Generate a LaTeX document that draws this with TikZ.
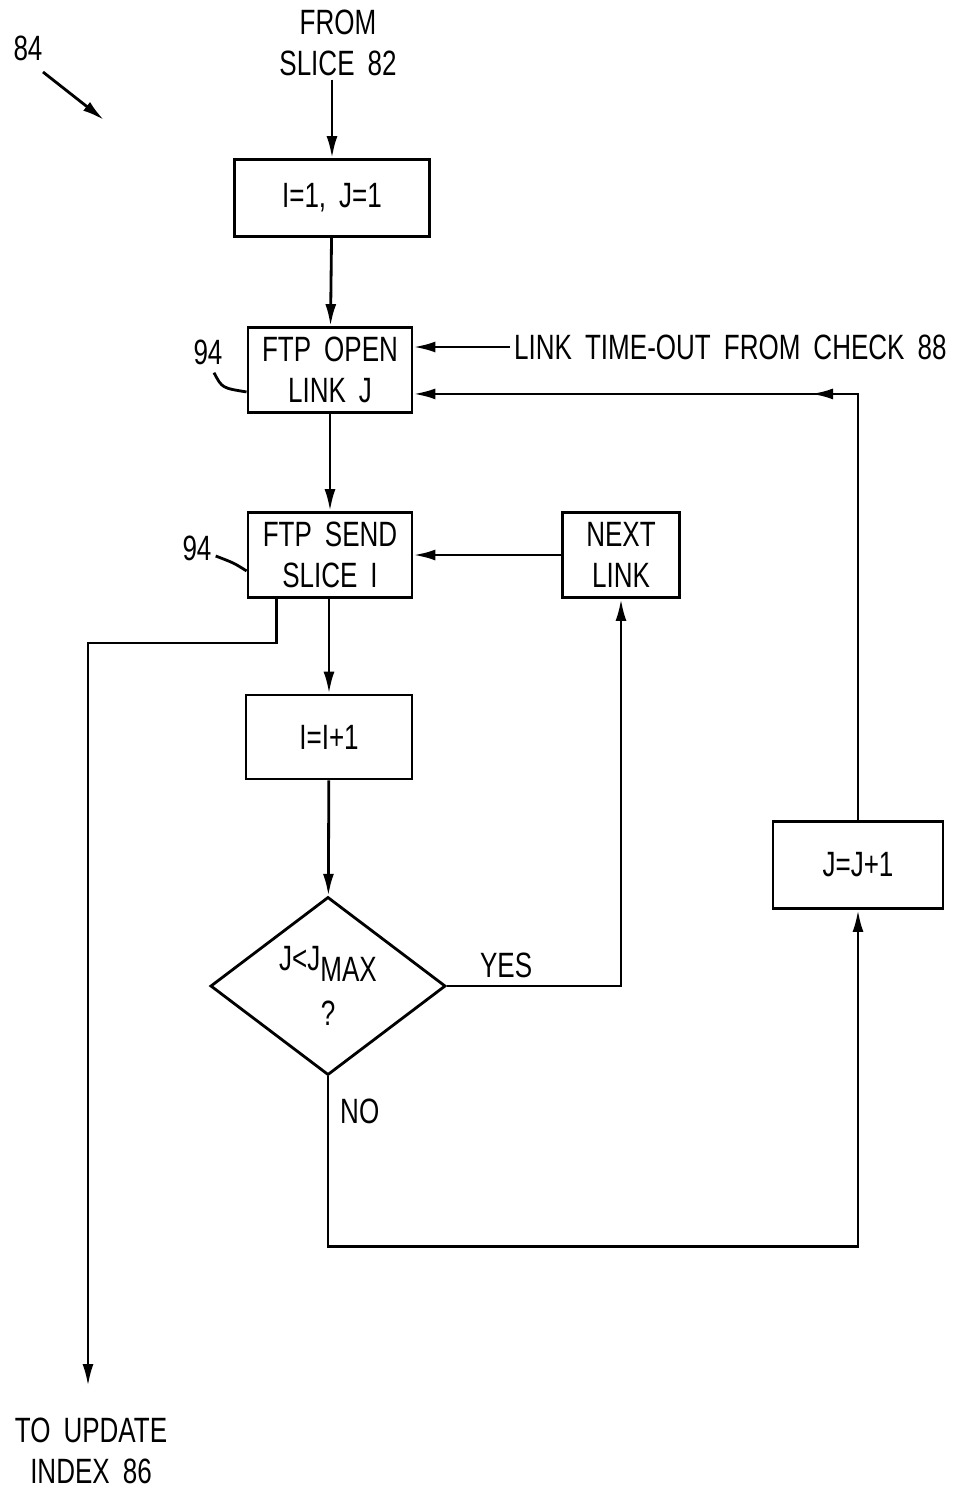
\documentclass[tikz,border=0pt]{standalone}
\usepackage{fontspec}
\setmainfont{Liberation Sans}[FakeStretch=0.74, WordSpace=1.8]
\usepackage{tikz}
\usetikzlibrary{shapes.geometric, arrows.meta, positioning, calc}

\begin{document}
\begin{tikzpicture}[
    x=0.01cm, y=-0.01cm,
    every node/.style={font=\fontsize{10}{11.5}\selectfont},
    box/.style={rectangle, draw, line width=0.8pt, minimum width=1.64cm, minimum height=0.85cm, align=center, inner sep=1pt},
    decision/.style={diamond, draw, line width=0.8pt, minimum width=2.35cm, minimum height=1.78cm, align=center, inner sep=0pt},
    txt/.style={align=center, inner sep=1pt},
    line/.style={line width=0.8pt},
    arrow/.style={-{Latex[length=2.2mm, width=1.1mm]}, line width=0.8pt}
]
\useasboundingbox (0,0) rectangle (957,1487);

% labels outside the flow
\node[txt] (fig84) at (28,48) {84};
\node[txt] (fromslice) at (338,43) {FROM\\SLICE 82};
\node[txt, anchor=west] (timeout) at (510,347) {LINK TIME-OUT FROM CHECK 88};
\node[txt, anchor=north] (toupdate) at (91,1414) {TO UPDATE\\INDEX 86};

% process boxes
\node[box, minimum width=1.95cm, minimum height=0.77cm] (init) at (332,198) {I=1, J=1};
\node[box] (ftpopen) at (330,370) {FTP OPEN\\LINK J};
\node[box] (ftpsend) at (330,555) {FTP SEND\\SLICE I};
\node[box, minimum width=1.17cm] (nextlink) at (621,555) {NEXT\\LINK};
\node[box, minimum width=1.66cm, minimum height=0.84cm] (incI) at (329,737) {I=I+1};
\node[box, minimum width=1.70cm, minimum height=0.87cm] (incJ) at (858,865) {J=J+1};
\node[decision] (test) at (328,986) {J<J\raisebox{-0.55ex}{MAX}\\[4pt]?};

% reference numerals
\node[txt] (lbl94a) at (208,352) {94};
\node[txt] (lbl94b) at (197,548) {94};
\draw[line] ($(lbl94a.south)+(6,4)$) .. controls (222,388) .. ($(ftpopen.south west)+(0,-22)$);
\draw[line] ($(lbl94b.east)+(0,8)$) .. controls (234,563) .. ($(ftpsend.south west)+(0,-28)$);
\draw[arrow] (43,72) -- (104,120);

% main flow
\draw[arrow] (init.north |- fromslice.south) -- (init.north);
\draw[arrow] (init) -- (ftpopen);
\draw[arrow] (timeout.west) -- (timeout.west -| ftpopen.east);
\draw[arrow] (ftpopen) -- (ftpsend);
\draw[arrow] (nextlink) -- (ftpsend);
\draw[arrow] (ftpsend.south -| incI.north) -- (incI.north);
\draw[arrow] (incI) -- (test);

% exit to index update
\coordinate (sendout) at ($(ftpsend.south west)+(30,0)$);
\draw[arrow] (sendout) -- ++(0,44) -| ($(toupdate.north)+(-3,-28)$);

% yes branch
\draw[arrow] (test.east) -| node[pos=0.17, above, inner sep=2pt] {YES} (nextlink.south);

% no branch
\draw[arrow] (test.south) -- ++(0,170) -| (incJ.south);
\node[txt, anchor=west] (nolbl) at ($(test.south)+(8,35)$) {NO};

% back to open link
\coordinate (loopin) at ($(ftpopen.south east)+(0,-20)$);
\coordinate (loopcorner) at (incJ.north |- loopin);
\draw[arrow] (incJ.north) -- (loopcorner) -- (loopin);
\draw[arrow] (loopcorner) -- ++(-47,0);
\end{tikzpicture}
\end{document}
